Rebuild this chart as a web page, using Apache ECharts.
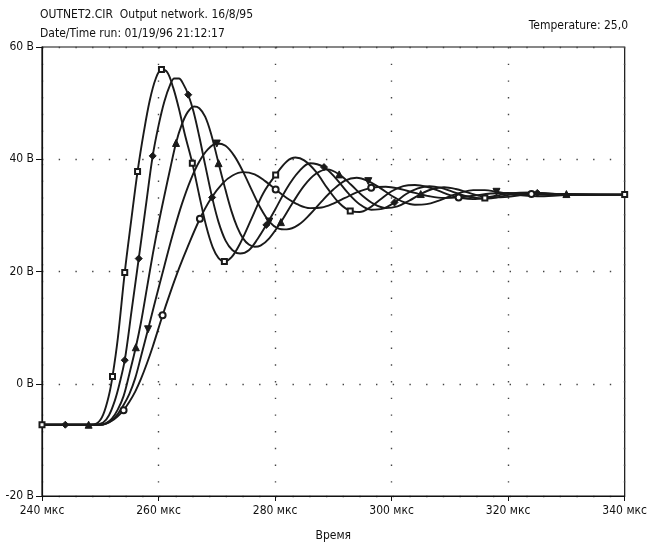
<!DOCTYPE html>
<html>
<head>
<meta charset="utf-8">
<script src="https://cdn.jsdelivr.net/npm/echarts@6/dist/echarts.min.js"></script>
<style>
html,body{margin:0;padding:0;background:#fff;}
#c{width:650px;height:547px;}
</style>
</head>
<body>
<div id="c"></div>
<script>
// Tick values
const xTicks = [240, 260, 280, 300, 320, 340];
const yTicks = [-20, 0, 20, 40, 60];

// Curve A (open squares)
const ptsA = [[240,-7.3],[244,-7.3],[248,-7.3],[249.5,-7.0],[250.5,-5.5],[251.5,-2],[252.1,1.3],[253,8],[254.2,19.8],[255.3,29],[256.4,37.8],[257.5,45],[258.5,50.5],[259.5,54.3],[260.5,56],[261.5,55.5],[262.5,52.8],[263.5,49],[264.5,44.5],[265.8,39.3],[267,33.5],[268.2,28],[269.3,24.3],[270.3,22.4],[271.3,21.8],[272.5,22.5],[274,25],[276,29.5],[278,34],[280.1,37.2],[282,39.6],[283.5,40.3],[285,39.8],[287,37.8],[289,34.8],[291,32.2],[292.9,30.8],[294.5,30.6],[296,31.2],[298,32.8],[300,34.3],[302,35.2],[304,35.4],[306,35.1],[308,34.4],[310,33.6],[312,33.1],[314,32.9],[316,33.1],[318,33.5],[320,33.9],[324,34.1],[328,33.8],[334,33.7],[340,33.7]];
const marksA = [240,252.1,254.2,256.4,260.5,265.8,271.3,280.1,292.9,316,340];

// Curve B (filled diamonds)
const ptsB = [[240,-7.3],[244,-7.3],[249,-7.3],[250.5,-6.9],[251.5,-5.6],[252.5,-3],[253.3,0],[254.2,4.2],[255.4,13.2],[256.6,22.3],[257.8,31.5],[259,40.6],[260,46],[261,50.3],[262,53.3],[262.7,54.4],[263.5,54.4],[264.3,53.3],[265.1,51.5],[266,48.5],[267,44],[268,39],[269.2,33.2],[270.3,28.8],[271.5,25.5],[272.7,23.8],[274,23.2],[275.5,23.8],[277,25.8],[278.5,28.3],[280,31],[282,34.8],[284,37.7],[286,39.3],[288.4,38.6],[290.5,36.5],[292.5,34],[294.5,32],[296.5,31],[298.5,31.2],[300.5,32.3],[302.5,33.8],[304.5,34.8],[306.5,35.2],[308.5,34.9],[310.5,34.2],[312.5,33.5],[314.5,33.1],[316.5,33],[318.5,33.3],[321,33.8],[325,34],[330,33.7],[340,33.7]];
const marksB = [244,254.2,256.6,259,265.1,269.2,278.5,288.4,300.5,325];

// Curve C (filled triangles up)
const ptsC = [[240,-7.3],[248,-7.3],[250,-7.3],[251,-7],[252,-6.2],[253,-4.6],[254,-2.2],[255,1.8],[256.1,6.5],[257,11],[258,17],[259,23],[260,28.5],[261,33.5],[262,38.3],[263,42.9],[264,46.2],[265,48.4],[266.1,49.4],[267,49.1],[268,47.6],[269,44.6],[270.3,39.3],[271.5,34.5],[272.5,30.8],[273.5,27.9],[274.5,25.9],[275.5,24.8],[276.5,24.4],[277.5,24.6],[279,25.9],[281,28.8],[283,32.2],[285,35.3],[287,37.4],[289,38.2],[291,37.3],[293,35.5],[295,33.5],[297,32],[299,31.3],[301,31.6],[303,32.6],[305,33.8],[307,34.7],[309,35],[311,34.7],[313,34.1],[315,33.5],[317,33.2],[320,33.3],[324,33.8],[330,33.8],[340,33.7]];
const marksC = [248,256.1,263,270.3,281,291,305,330];

// Curve D (filled triangles down)
const ptsD = [[240,-7.3],[250,-7.3],[251,-7.1],[252,-6.5],[253,-5.4],[254,-3.8],[255,-1.8],[256,1],[257,4.9],[258.2,9.7],[259.5,15],[261,21],[262.5,26.8],[264,32],[265.5,36.3],[267,39.6],[268.5,41.8],[270,42.8],[271.5,42.4],[273,40.6],[274.5,37.8],[276,34.5],[277.5,31.3],[279,28.9],[280.5,27.7],[282,27.5],[284,28.3],[286,30.2],[288,32.5],[290,34.6],[292,36.2],[294,36.7],[296,36.1],[298,34.9],[300,33.5],[302,32.4],[304,31.9],[306,32],[308,32.6],[310,33.4],[312,34.1],[314,34.5],[316,34.5],[318,34.2],[321,33.7],[325,33.4],[330,33.6],[340,33.7]];
const marksD = [258.2,270,279,296,318];

// Curve E (open circles)
const ptsE = [[240,-7.3],[250,-7.3],[251,-7.1],[252,-6.6],[253,-5.8],[254,-4.7],[255,-3.2],[256,-1.4],[257,0.9],[258,3.6],[259,6.6],[260.7,12.2],[262,16.2],[263.5,20.5],[265,24.4],[267.1,29.4],[269,33],[271,35.7],[272.7,37.1],[274.5,37.7],[276.5,37.3],[278.3,36.1],[280.1,34.6],[282,33.1],[284,31.9],[286,31.3],[288,31.4],[290,32.1],[292,33.1],[294,34.1],[296.5,34.9],[299,35.1],[301.5,34.7],[304,34],[306.5,33.4],[309,33.1],[311.5,33.2],[314,33.5],[317,33.9],[320,34],[324,33.8],[330,33.6],[340,33.7]];
const marksE = [254,260.7,267.1,280.1,296.5,311.5,324];

const FONT = "'DejaVu Sans Condensed','Liberation Sans Narrow','Arial Narrow',sans-serif";
const LC = '#1a1a1a';

function mk(pts, marks, symbol, size, rot) {
  return {
    type: 'line',
    smooth: 0.35,
    showAllSymbol: true,
    symbolSize: size,
    lineStyle: { color: LC, width: 1.9 },
    itemStyle: { color: LC, borderColor: LC, borderWidth: 1 },
    emphasis: { disabled: true },
    animation: false,
    z: 3,
    data: pts.map(p => marks.includes(p[0])
      ? { value: p, symbol: symbol, symbolRotate: rot || 0 }
      : { value: p, symbol: 'none' })
  };
}

const chart = echarts.init(document.getElementById('c'));
chart.setOption({
  animation: false,
  backgroundColor: '#fff',
  textStyle: { fontFamily: FONT },
  title: [
    { text: 'OUTNET2.CIR  Output network. 16/8/95', left: 35, top: 4,
      textStyle: { fontFamily: FONT, fontSize: 12, fontWeight: 'normal', color: '#111' } },
    { text: 'Date/Time run: 01/19/96 21:12:17', left: 35, top: 23,
      textStyle: { fontFamily: FONT, fontSize: 12, fontWeight: 'normal', color: '#111' } },
    { text: 'Temperature: 25,0', right: 17, top: 15,
      textStyle: { fontFamily: FONT, fontSize: 12, fontWeight: 'normal', color: '#111' } }
  ],
  grid: { left: 42, right: 22, top: 47, bottom: 50, show: true, borderColor: '#111', borderWidth: 1.2 },
  xAxis: {
    type: 'value', min: xTicks[0], max: xTicks[xTicks.length - 1], interval: 20,
    name: 'Время', nameLocation: 'middle', nameGap: 34,
    nameTextStyle: { fontFamily: FONT, fontSize: 12, color: '#111' },
    axisLine: { onZero: false, lineStyle: { color: '#111', width: 1.2 } },
    axisTick: { show: true, length: 5, lineStyle: { color: '#111' } },
    axisLabel: { formatter: '{value} мкс', fontFamily: FONT, fontSize: 12, color: '#111', margin: 9 },
    splitLine: { show: true, lineStyle: { color: '#444', width: 1.4, type: [1.4, 15.3], dashOffset: 0 } }
  },
  yAxis: {
    type: 'value', min: yTicks[0], max: yTicks[yTicks.length - 1], interval: 20,
    axisLine: { show: true, onZero: false, lineStyle: { color: '#111', width: 1.2 } },
    axisTick: { show: true, length: 6, lineStyle: { color: '#111' } },
    axisLabel: { formatter: '{value} В', fontFamily: FONT, fontSize: 12, color: '#111', margin: 8 },
    splitLine: { show: true, lineStyle: { color: '#444', width: 1.4, type: [1.4, 15.3], dashOffset: 0 } }
  },
  series: [
    mk(ptsE, marksE, 'emptyCircle', 6),
    mk(ptsD, marksD, 'triangle', 7, 180),
    mk(ptsC, marksC, 'triangle', 7),
    mk(ptsB, marksB, 'diamond', 7),
    mk(ptsA, marksA, 'emptyRect', 5)
  ]
});
</script>
</body>
</html>
